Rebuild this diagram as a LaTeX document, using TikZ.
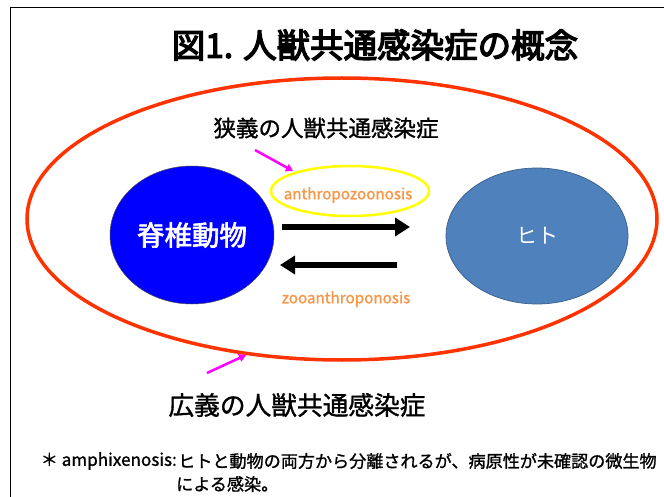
\documentclass[tikz,border=0pt]{standalone}
\usepackage{fontspec}
\setmainfont{Noto Sans CJK JP}
\newfontfamily\cjk{Noto Sans CJK JP}
\newfontfamily\cjkm{Noto Sans CJK JP}[FakeBold=1.2]
\newfontfamily\cjkb{Noto Sans CJK JP}[FakeBold=2.5]
\newfontfamily\cjkh{Noto Sans CJK JP}[FakeBold=4]
\usetikzlibrary{arrows.meta,shapes.geometric}
\definecolor{redline}{HTML}{FF3300}
\definecolor{orangetxt}{HTML}{F79646}
\definecolor{hitofill}{HTML}{4F81BD}
\definecolor{hitoline}{HTML}{385D8A}
\definecolor{pinkline}{RGB}{255,0,255}
\definecolor{vertblue}{RGB}{0,0,255}
\definecolor{yelline}{RGB}{255,255,0}
\tikzset{
  lbl/.style={font=\cjk, inner sep=0pt},
  thickarrow/.style={line width=5.5pt, -{Triangle[length=15pt,width=18pt]}},
  pinkarrow/.style={draw=pinkline, line width=2.5pt, -{Triangle[length=7pt,width=8pt]}},
  orangelbl/.style={text=orangetxt, font=\fontsize{15.2}{17}\selectfont\cjkm, inner sep=0pt},
  fnlbl/.style={inner sep=0pt, font=\fontsize{17.1}{19}\selectfont\cjkm},
}
\begin{document}
\begin{tikzpicture}[x=1pt,y=-1pt]
\useasboundingbox (0,0) rectangle (664,497);
\fill[white] (0,0) rectangle (664,497);
% frame
\draw[line width=1.2pt] (664,7.5) -- (10.5,7.5) -- (10.5,497);
% title
\node[lbl, font=\fontsize{33.5}{36}\selectfont\cjkh] (title) at (375,45) {図1. 人獣共通感染症の概念};
% big ellipse
\node[draw=redline, line width=3.5pt, ellipse, minimum width=630pt, minimum height=282pt, inner sep=0pt] (wide) at (342,219) {};
% vertebrate
\node[ellipse, fill=vertblue, draw=black!70, line width=0.5pt, minimum width=164pt, minimum height=138pt, inner sep=0pt, text=white, font=\fontsize{27.5}{30}\selectfont\cjkb] (vert) at (192,235) {脊椎動物};
% human
\node[ellipse, fill=hitofill, draw=hitoline, line width=0.7pt, minimum width=182pt, minimum height=136pt, inner sep=0pt, text=white, font=\fontsize{21}{23}\selectfont\cjk] (hito) at (537,236) {ヒト};
% yellow ellipse
\node[ellipse, draw=yelline, line width=2.5pt, minimum width=158pt, minimum height=50pt, inner sep=0pt] (yel) at (350,191) {};
\node[orangelbl] (anthro) at (348,195) {anthropozoonosis};
\node[orangelbl] (zoo) at (346,299) {zooanthroponosis};
% arrows
\coordinate (a1s) at (282,227);
\coordinate (a1e) at (410,227);
\coordinate (a2s) at (397,265);
\coordinate (a2e) at (280,265);
\draw[thickarrow] (a1s) -- (a1e);
\draw[thickarrow] (a2s) -- (a2e);
% labels
\node[lbl, font=\fontsize{22.5}{24}\selectfont\cjkm] (narrow) at (326,128) {狭義の人獣共通感染症};
\node[lbl, font=\fontsize{25.7}{28}\selectfont\cjkm] (broad) at (297,405) {広義の人獣共通感染症};
\coordinate (p1s) at (255,150);
\coordinate (p1e) at (293,171);
\draw[pinkarrow] (p1s) -- (p1e);
\coordinate (p2s) at (207,373);
\coordinate (p2e) at (246,355);
\draw[pinkarrow] (p2s) -- (p2e);
% footnote
\node[fnlbl, anchor=east] (fn0) at (177,461) {＊ amphixenosis:};
\node[fnlbl, anchor=west] (fn1) at (178,461) {ヒトと動物の両方から分離されるが、病原性が未確認の微生物};
\node[fnlbl, anchor=west] (fn2) at (176,484) {による感染。};
\end{tikzpicture}
\end{document}
